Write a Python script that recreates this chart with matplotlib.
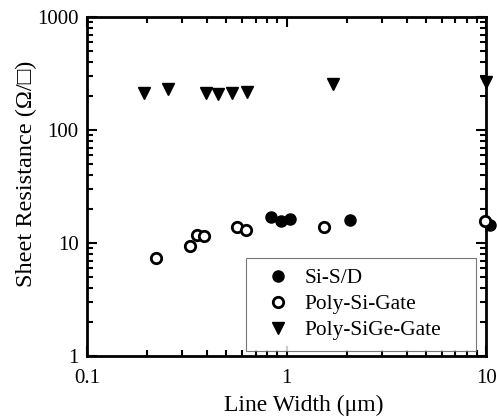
import matplotlib.pyplot as plt

plt.rcParams['font.family'] = ['Liberation Serif', 'DejaVu Serif']

# Si source/drain
sd_width = [0.834, 0.936, 1.04, 2.08, 10.45]
sd_rs = [17.1, 15.7, 16.5, 16.0, 14.6]

# poly-Si gate
psi_width = [0.223, 0.327, 0.358, 0.387, 0.562, 0.630, 1.545, 9.86]
psi_rs = [7.4, 9.5, 11.8, 11.5, 13.8, 13.1, 13.9, 15.7]

# poly-SiGe gate
psige_width = [0.1935, 0.256, 0.393, 0.455, 0.530, 0.637, 1.70, 10.0]
psige_rs = [214, 231, 211, 207, 211, 218, 255, 267]

fig = plt.figure(figsize=(4.97, 4.16), dpi=100)
ax = fig.add_axes([0.175, 0.144, 0.803, 0.815])

ax.plot(sd_width, sd_rs, 'o', color='black', markersize=8, label='Si-S/D', clip_on=False, zorder=3)
ax.plot(psi_width, psi_rs, 'o', markerfacecolor='white', markeredgecolor='black',
        markeredgewidth=2, markersize=7.5, label='Poly-Si-Gate', clip_on=False, zorder=4)
ax.plot(psige_width, psige_rs, 'v', color='black', markersize=8.5, label='Poly-SiGe-Gate',
        clip_on=False, zorder=3)

ax.set_xscale('log')
ax.set_yscale('log')
ax.set_xlim(0.1, 10)
ax.set_ylim(1, 1000)
ax.set_xticks([0.1, 1, 10])
ax.set_xticklabels(['0.1', '1', '10'])
ax.set_yticks([1, 10, 100, 1000])
ax.set_yticklabels(['1', '10', '100', '1000'])

for s in ax.spines.values():
    s.set_linewidth(2)
ax.tick_params(which='both', direction='in', top=True, right=True, labelsize=15, width=1.5)
ax.tick_params(which='major', length=7, pad=6)
ax.tick_params(which='minor', length=4.5)
ax.tick_params(axis='x', which='major', pad=9.5)

ax.set_xlabel('Line Width (μm)', fontsize=17)
ax.set_ylabel('Sheet Resistance (Ω/□)', fontsize=17.5)
ax.xaxis.set_label_coords(0.544, -0.115)
ax.yaxis.set_label_coords(-0.125, 0.537)

leg = ax.legend(loc='lower left', bbox_to_anchor=(0.398, 0.015, 0.577, 0.283), mode='expand',
                borderaxespad=0, fontsize=15.4, frameon=True, fancybox=False, edgecolor='#555555',
                handletextpad=0.25, labelspacing=0.28, borderpad=0.5, handlelength=2)
leg.get_frame().set_linewidth(0.8)

fig.savefig('out.png', dpi=100)
